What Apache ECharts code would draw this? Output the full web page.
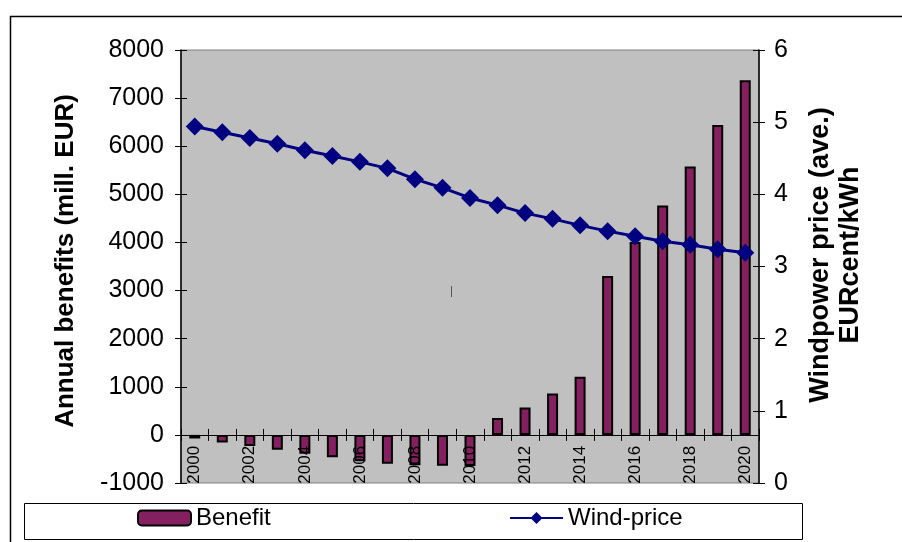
<!DOCTYPE html>
<html>
<head>
<meta charset="utf-8">
<script src="https://cdn.jsdelivr.net/npm/echarts@6/dist/echarts.min.js"></script>
<style>
  html, body { margin: 0; padding: 0; background: #ffffff; }
  #chart { width: 902px; height: 542px; }
</style>
</head>
<body>
<div id="chart"></div>
<script>
// Years on the category axis
const years = ['2000','2001','2002','2003','2004','2005','2006','2007','2008','2009','2010',
               '2011','2012','2013','2014','2015','2016','2017','2018','2019','2020'];
// Annual benefits, mill. EUR
const benefit = [-75, -160, -230, -310, -390, -465, -550, -600, -630, -640, -645,
                 350, 570, 860, 1210, 3300, 4010, 4770, 5580, 6440, 7370];
// Average windpower price, EURcent/kWh
const windPrice = [4.94, 4.86, 4.78, 4.70, 4.61, 4.53, 4.45, 4.36, 4.21, 4.09, 3.95,
                   3.85, 3.74, 3.66, 3.57, 3.49, 3.42, 3.35, 3.30, 3.24, 3.19];
// Axis ranges
const leftMin = -1000, leftMax = 8000, leftStep = 1000;
const rightMin = 0, rightMax = 6, rightStep = 1;

const FONT = 'Liberation Sans, Arial, sans-serif';
const BAR_COLOR = '#84205f';
const LINE_COLOR = '#000080';

// Plot box
const GRID = { left: 181, right: 143, top: 50, bottom: 59 };
const CHART_H = 542;
const plotH = CHART_H - GRID.top - GRID.bottom;
// The category axis sits on the benefit zero line, lifted from the bottom edge
const zeroLift = plotH * (0 - leftMin) / (leftMax - leftMin);

const chart = echarts.init(document.getElementById('chart'));

const tickStyle = { color: '#000', width: 1 };

chart.setOption({
  animation: false,
  backgroundColor: '#ffffff',
  textStyle: { fontFamily: FONT },
  grid: Object.assign({
    show: true, backgroundColor: '#c0c0c0', borderColor: '#808080', borderWidth: 1
  }, GRID),
  legend: [
    {
      data: ['Benefit'], left: 137, top: 506, padding: 0,
      itemWidth: 53, itemHeight: 15, itemGap: 6,
      textStyle: { fontFamily: FONT, fontSize: 24, color: '#000' }
    },
    {
      data: ['Wind-price'], left: 509, top: 506, padding: 0,
      itemWidth: 53, itemHeight: 15, itemGap: 6,
      textStyle: { fontFamily: FONT, fontSize: 24, color: '#000' }
    }
  ],
  xAxis: [
    {
      type: 'category', data: years, position: 'bottom', offset: -zeroLift, z: 10,
      axisLine: { onZero: false, lineStyle: { color: '#000', width: 1 } },
      axisTick: { show: true, interval: 0, length: 6, lineStyle: tickStyle },
      axisLabel: {
        interval: 1, rotate: 90, margin: 11,
        fontFamily: FONT, fontSize: 17, color: '#000'
      },
      splitLine: { show: false }
    },
    {
      // inner half of the crossing category ticks
      type: 'category', data: years, position: 'bottom', offset: -zeroLift, z: 10,
      axisLine: { onZero: false, show: false },
      axisTick: { show: true, inside: true, interval: 0, length: 6, lineStyle: tickStyle },
      axisLabel: { show: false },
      splitLine: { show: false }
    }
  ],
  yAxis: [
    {
      type: 'value', position: 'left', min: leftMin, max: leftMax, interval: leftStep,
      axisLine: { show: true, onZero: false, lineStyle: { color: '#000', width: 1.5 } },
      axisTick: { show: true, length: 6, lineStyle: tickStyle },
      axisLabel: { margin: 17, fontFamily: FONT, fontSize: 25, color: '#000',
                   formatter: v => String(v) },
      splitLine: { show: false }
    },
    {
      type: 'value', position: 'right', min: rightMin, max: rightMax, interval: rightStep,
      axisLine: { show: true, onZero: false, lineStyle: { color: '#000', width: 1.5 } },
      axisTick: { show: true, length: 6, lineStyle: tickStyle },
      axisLabel: { margin: 15, fontFamily: FONT, fontSize: 25, color: '#000',
                   formatter: v => String(v) },
      splitLine: { show: false }
    },
    {
      type: 'value', position: 'left', min: leftMin, max: leftMax, interval: leftStep,
      axisLine: { show: false, onZero: false },
      axisTick: { show: true, inside: true, length: 6, lineStyle: tickStyle },
      axisLabel: { show: false },
      splitLine: { show: false }
    },
    {
      type: 'value', position: 'right', min: rightMin, max: rightMax, interval: rightStep,
      axisLine: { show: false, onZero: false },
      axisTick: { show: true, inside: true, length: 6, lineStyle: tickStyle },
      axisLabel: { show: false },
      splitLine: { show: false }
    }
  ],
  series: [
    {
      name: 'Benefit', type: 'bar', data: benefit,
      xAxisIndex: 0, yAxisIndex: 0, barWidth: 11,
      itemStyle: { color: BAR_COLOR, borderColor: '#000', borderWidth: 2 }
    },
    {
      name: 'Wind-price', type: 'line', data: windPrice,
      xAxisIndex: 0, yAxisIndex: 1, z: 5,
      symbol: 'diamond', symbolSize: 18, showSymbol: true,
      lineStyle: { color: LINE_COLOR, width: 3 },
      itemStyle: { color: LINE_COLOR, borderColor: LINE_COLOR, borderWidth: 0 }
    }
  ],
  graphic: [
    // outer chart frame
    { type: 'rect', left: 8, top: 14, shape: { width: 1000, height: 1000 },
      style: { fill: 'none', stroke: '#000', lineWidth: 1.5 }, silent: true, z: -1 },
    // legend frame
    { type: 'rect', left: 22, top: 501, shape: { width: 778, height: 36 },
      style: { fill: 'none', stroke: '#000', lineWidth: 1 }, silent: true },
    // left axis title
    { type: 'text', x: 66, y: 261, rotation: Math.PI / 2,
      style: { text: 'Annual benefits (mill. EUR)', font: 'bold 26px ' + FONT,
               fill: '#000', align: 'center', verticalAlign: 'middle' } },
    // right axis title
    { type: 'text', x: 836, y: 255, rotation: Math.PI / 2,
      style: { text: 'Windpower price (ave.)\nEURcent/kWh', font: 'bold 27px ' + FONT,
               lineHeight: 30, fill: '#000', align: 'center', verticalAlign: 'middle' } },
    // small stray mark inside the plot
    { type: 'line', shape: { x1: 451.5, y1: 286, x2: 451.5, y2: 297 },
      style: { stroke: '#555', lineWidth: 1 }, silent: true }
  ]
});
</script>
</body>
</html>
